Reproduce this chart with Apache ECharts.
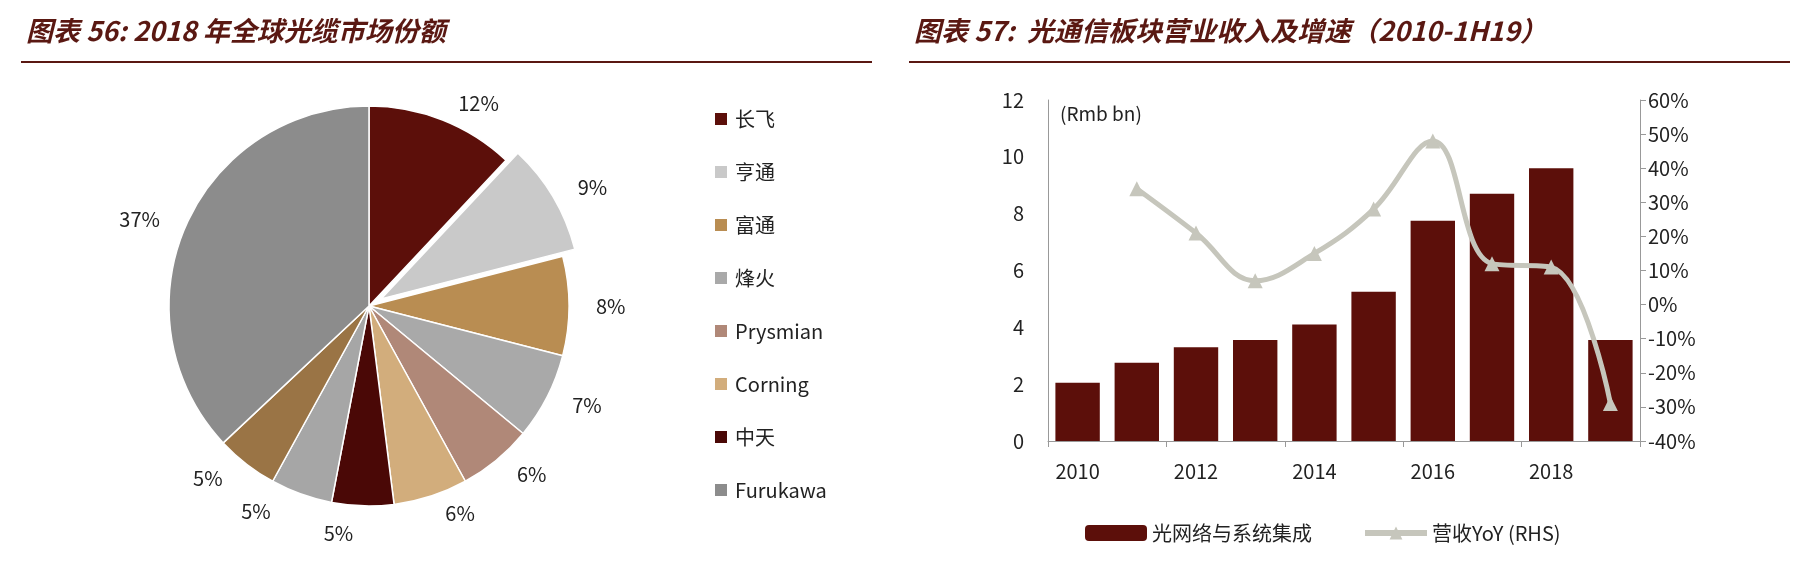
<!DOCTYPE html>
<html>
<head>
    <meta charset="utf-8">
    <script src="https://cdn.jsdelivr.net/npm/echarts@6/dist/echarts.min.js"></script>
    <style>
        html, body { margin: 0; padding: 0; background: #fff; }
        #main { width: 1796px; height: 562px; }
    </style>
</head>
<body>
    <div id="main"></div>
    <script>
        // 图表56 data
        const shareNames = ['长飞', '亨通', '富通', '烽火', 'Prysmian', 'Corning', '中天', '其他A', '其他B', 'Furukawa'];
        const shareValues = [12, 9, 8, 7, 6, 6, 5, 5, 5, 37];
        const shareColors = ['#5c0f0a', '#c9c9c9', '#b98d52', '#a9a9a9', '#b08878', '#d2ad7c', '#4a0806', '#a6a6a6', '#9a7445', '#8c8c8c'];
        const legendNames = ['长飞', '亨通', '富通', '烽火', 'Prysmian', 'Corning', '中天', 'Furukawa'];

        // 图表57 data
        const years = ['2010', '2011', '2012', '2013', '2014', '2015', '2016', '2017', '2018', '1H19'];
        const revenue = [2.05, 2.75, 3.3, 3.55, 4.1, 5.25, 7.75, 8.7, 9.6, 3.55];
        const yoy = [null, 34, 21, 7, 15, 28, 48, 12, 11, -29];

        const titleColor = '#5a1812';
        const font = '"Noto Sans CJK SC", "Open Sans", sans-serif';
        const chart = echarts.init(document.getElementById('main'));

        chart.setOption({
            backgroundColor: '#fff',
            textStyle: { fontFamily: font },
            title: [{
                text: '图表 56: 2018 年全球光缆市场份额',
                left: 21, top: 12,
                textStyle: { color: titleColor, fontSize: 27, fontStyle: 'italic', fontWeight: 'bold', fontFamily: font }
            }, {
                text: '图表 57:  光通信板块营业收入及增速（2010-1H19）',
                left: 909, top: 12,
                textStyle: { color: titleColor, fontSize: 27, fontStyle: 'italic', fontWeight: 'bold', fontFamily: font }
            }],
            graphic: [
                { type: 'line', shape: { x1: 21, y1: 62, x2: 872, y2: 62 }, style: { stroke: titleColor, lineWidth: 2 } },
                { type: 'line', shape: { x1: 909, y1: 62, x2: 1790, y2: 62 }, style: { stroke: titleColor, lineWidth: 2 } },
                { type: 'text', left: 1060, top: 104, style: { text: '(Rmb bn)', fontSize: 19, fill: '#222', fontFamily: font } }
            ],
            legend: [{
                data: legendNames,
                orient: 'vertical',
                left: 708, top: 104,
                itemGap: 33,
                itemWidth: 14, itemHeight: 14,
                icon: 'rect',
                textStyle: { fontSize: 20, color: '#222', padding: [0, 0, 0, 2] }
            }, {
                data: ['光网络与系统集成', '营收YoY (RHS)'],
                left: 1080, top: 518,
                itemGap: 50,
                itemWidth: 62, itemHeight: 16,
                lineStyle: { width: 6 },
                textStyle: { fontSize: 20, color: '#222' }
            }],
            grid: { left: 1048, right: 156, top: 100, bottom: 121 },
            xAxis: {
                type: 'category',
                data: years,
                axisLine: { lineStyle: { color: '#999' } },
                axisTick: { show: true, length: 6, lineStyle: { color: '#999' } },
                axisLabel: { fontSize: 20, color: '#222', margin: 20 }
            },
            yAxis: [{
                type: 'value', min: 0, max: 12, interval: 2,
                axisLine: { show: true, lineStyle: { color: '#999' } },
                axisTick: { show: false },
                splitLine: { show: false },
                axisLabel: { fontSize: 20, color: '#222', margin: 24 }
            }, {
                type: 'value', min: -40, max: 60, interval: 10,
                axisLine: { show: true, lineStyle: { color: '#999' } },
                axisTick: { show: true, length: 6, lineStyle: { color: '#999' } },
                splitLine: { show: false },
                axisLabel: { fontSize: 20, color: '#222', margin: 8, formatter: '{value}%' }
            }],
            series: [{
                type: 'pie',
                center: [369, 306],
                radius: 200,
                startAngle: 90,
                selectedMode: 'single',
                selectedOffset: 14,
                legendHoverLink: false,
                data: shareNames.map((n, i) => ({
                    name: n, value: shareValues[i], selected: i === 1,
                    itemStyle: { color: shareColors[i] }
                })),
                itemStyle: { borderColor: '#fff', borderWidth: 1.5 },
                label: { show: true, position: 'outside', formatter: '{c}%', fontSize: 20, color: '#222' },
                labelLine: { show: false, length: 18, length2: 4 }
            }, {
                name: '光网络与系统集成',
                type: 'bar',
                data: revenue,
                barWidth: '75%',
                itemStyle: { color: '#5c0f0a' }
            }, {
                name: '营收YoY (RHS)',
                type: 'line',
                yAxisIndex: 1,
                data: yoy,
                smooth: 0.4,
                symbol: 'triangle',
                symbolSize: 15,
                lineStyle: { color: '#c6c6bc', width: 5 },
                itemStyle: { color: '#c6c6bc' }
            }]
        });
    </script>
</body>
</html>
